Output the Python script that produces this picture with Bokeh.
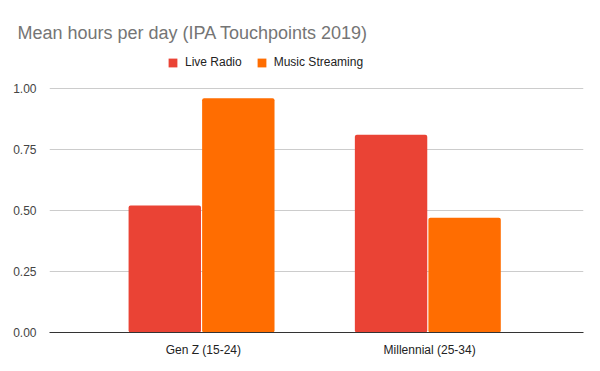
from bokeh.plotting import figure
from bokeh.models import ColumnDataSource, FactorRange, Legend, LegendItem, FixedTicker, NumeralTickFormatter, Range1d
from bokeh.transform import dodge
from bokeh.embed import file_html
from bokeh.resources import INLINE

categories = ["Gen Z (15-24)", "Millennial (25-34)"]
live_radio = [0.52, 0.81]
music_streaming = [0.96, 0.47]
series_names = ["Live Radio", "Music Streaming"]
colors = ["#ea4335", "#ff6d01"]
y_ticks = [0, 0.25, 0.5, 0.75, 1.0]

source = ColumnDataSource(data=dict(cat=categories, radio=live_radio, stream=music_streaming))

FONT = "Liberation Sans"

p = figure(width=600, height=371, output_backend="svg", toolbar_location=None,
           x_range=FactorRange(factors=categories, range_padding=0.18, range_padding_units="absolute"),
           y_range=Range1d(0, 1.1557),
           min_border_left=49, min_border_right=17, min_border_bottom=39, min_border_top=50)

r1 = p.vbar(x=dodge("cat", -0.1705, range=p.x_range), top="radio", width=0.32, source=source,
            fill_color=colors[0], line_color=None, border_radius=2)
r2 = p.vbar(x=dodge("cat", 0.1545, range=p.x_range), top="stream", width=0.32, source=source,
            fill_color=colors[1], line_color=None, border_radius=2)

p.title.text = "Mean hours per day (IPA Touchpoints 2019)"
p.title.text_font = FONT
p.title.text_font_size = "18px"
p.title.text_font_style = "normal"
p.title.text_color = "#757575"
p.title.align = "left"
p.title.offset = -32
p.title.standoff = 15

legend = Legend(items=[LegendItem(label=series_names[0], renderers=[r1]),
                       LegendItem(label=series_names[1], renderers=[r2])],
                orientation="horizontal", location=(118, 263),
                label_text_font=FONT, label_text_font_size="12px", label_text_color="#222222",
                glyph_width=11, glyph_height=11, label_standoff=7, spacing=14,
                border_line_color=None, background_fill_alpha=0, padding=4, margin=0)
p.add_layout(legend, "center")

p.outline_line_color = None
p.xgrid.grid_line_color = None
p.ygrid.grid_line_color = "#cccccc"
p.ygrid.ticker = FixedTicker(ticks=y_ticks)

p.yaxis.ticker = FixedTicker(ticks=y_ticks)
p.yaxis.formatter = NumeralTickFormatter(format="0.00")
p.yaxis.axis_line_color = None
p.yaxis.major_tick_line_color = None
p.yaxis.minor_tick_line_color = None
p.yaxis.major_label_standoff = 7
p.yaxis.major_label_text_font = FONT
p.yaxis.major_label_text_font_size = "12px"
p.yaxis.major_label_text_color = "#444444"

p.xaxis.axis_line_color = "#333333"
p.xaxis.axis_line_width = 1
p.xaxis.major_tick_line_color = None
p.xaxis.minor_tick_line_color = None
p.xaxis.major_label_standoff = 4
p.xaxis.major_label_text_font = FONT
p.xaxis.major_label_text_font_size = "12px"
p.xaxis.major_label_text_color = "#222222"

open("out.html", "w").write(file_html(p, INLINE))
